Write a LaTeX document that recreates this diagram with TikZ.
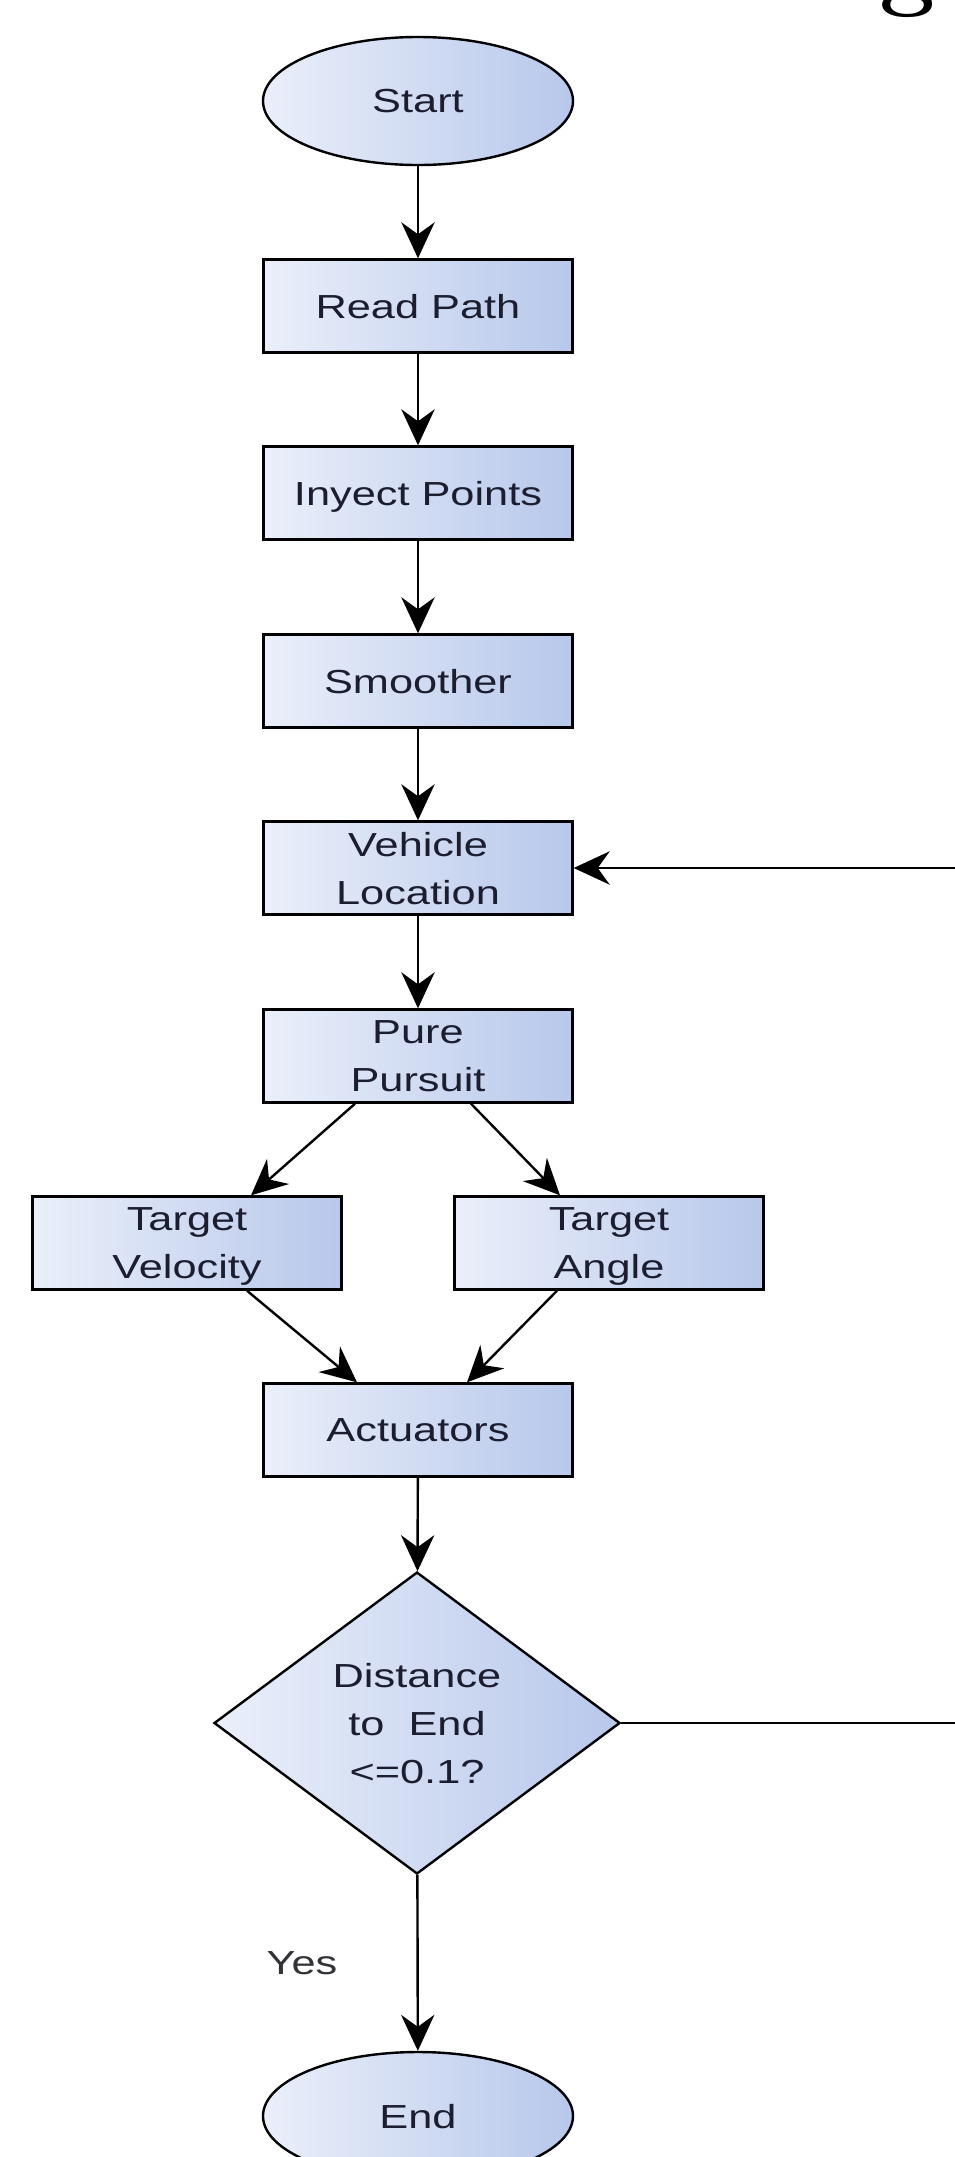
\documentclass[tikz,border=0pt]{standalone}
\usepackage{fontspec}
\newfontfamily\lblfont[FakeStretch=1.3]{Liberation Sans}
\usetikzlibrary{shapes.geometric,arrows.meta,calc}
\definecolor{fillL}{RGB}{234,239,250}
\definecolor{fillR}{RGB}{184,200,235}
\definecolor{txt}{RGB}{28,30,48}
\begin{document}
\begin{tikzpicture}[x=0.75pt,y=-0.75pt,
  base/.style={draw=black, line width=1.8pt, left color=fillL, right color=fillR,
    text=txt, font=\lblfont\fontsize{25}{36}\selectfont, align=center,
    inner sep=0pt, text depth=0pt},
  box/.style={base, rectangle, minimum width=231.75pt, minimum height=69.75pt},
  term/.style={base, ellipse, minimum width=232.5pt, minimum height=96pt},
  decision/.style={base, diamond, minimum width=304.5pt, minimum height=226.5pt, aspect=1.344},
  arr/.style={line width=1.8pt, -{Stealth[length=27pt,width=25pt,inset=9pt]}},
  lbl/.style={text={rgb,255:red,50;green,50;blue,55}, font=\lblfont\fontsize{25}{36}\selectfont, inner sep=0pt, text depth=0pt}]
\useasboundingbox (0,0) rectangle (954,2157);
\fill[white] (0,0) rectangle (954,2157);

\node[anchor=south, inner sep=0pt, font=\fontsize{75}{75}\selectfont\bfseries] (g) at (908,18) {g};

\node[term] (start) at (418,101) {Start};
\node[box] (read) at (418,306) {Read Path};
\node[box] (inyect) at (418,493) {Inyect Points};
\node[box] (smooth) at (418,681) {Smoother};
\node[box] (vloc) at (418,868) {Vehicle\\Location};
\node[box] (pp) at (418,1056) {Pure\\Pursuit};
\node[box] (tv) at (187,1243) {Target\\Velocity};
\node[box] (ta) at (609,1243) {Target\\Angle};
\node[box] (act) at (418,1430) {Actuators};
\node[decision] (dist) at (417,1723) {Distance\\to~ End\\<=0.1?};
\node[term] (end) at (418,2116) {End};
\node[lbl] (yes) at (302,1963) {Yes};

\draw[arr] (start) -- (read);
\draw[arr] (read) -- (inyect);
\draw[arr] (inyect) -- (smooth);
\draw[arr] (smooth) -- (vloc);
\draw[arr] (vloc) -- (pp);
\draw[arr] ($(pp.south)+(-63,0)$) -- ($(tv.north)+(64,0)$);
\draw[arr] ($(pp.south)+(53,0)$) -- ($(ta.north)+(-49,0)$);
\draw[arr] ($(tv.south)+(60,0)$) -- ($(act.north)+(-61,0)$);
\draw[arr] ($(ta.south)+(-52,0)$) -- ($(act.north)+(49,0)$);
\draw[arr] (act) -- (dist);
\draw[arr] (dist) -- (end);
\draw[arr] (dist.east) -- (975,1723) |- (vloc.east);
\end{tikzpicture}
\end{document}
